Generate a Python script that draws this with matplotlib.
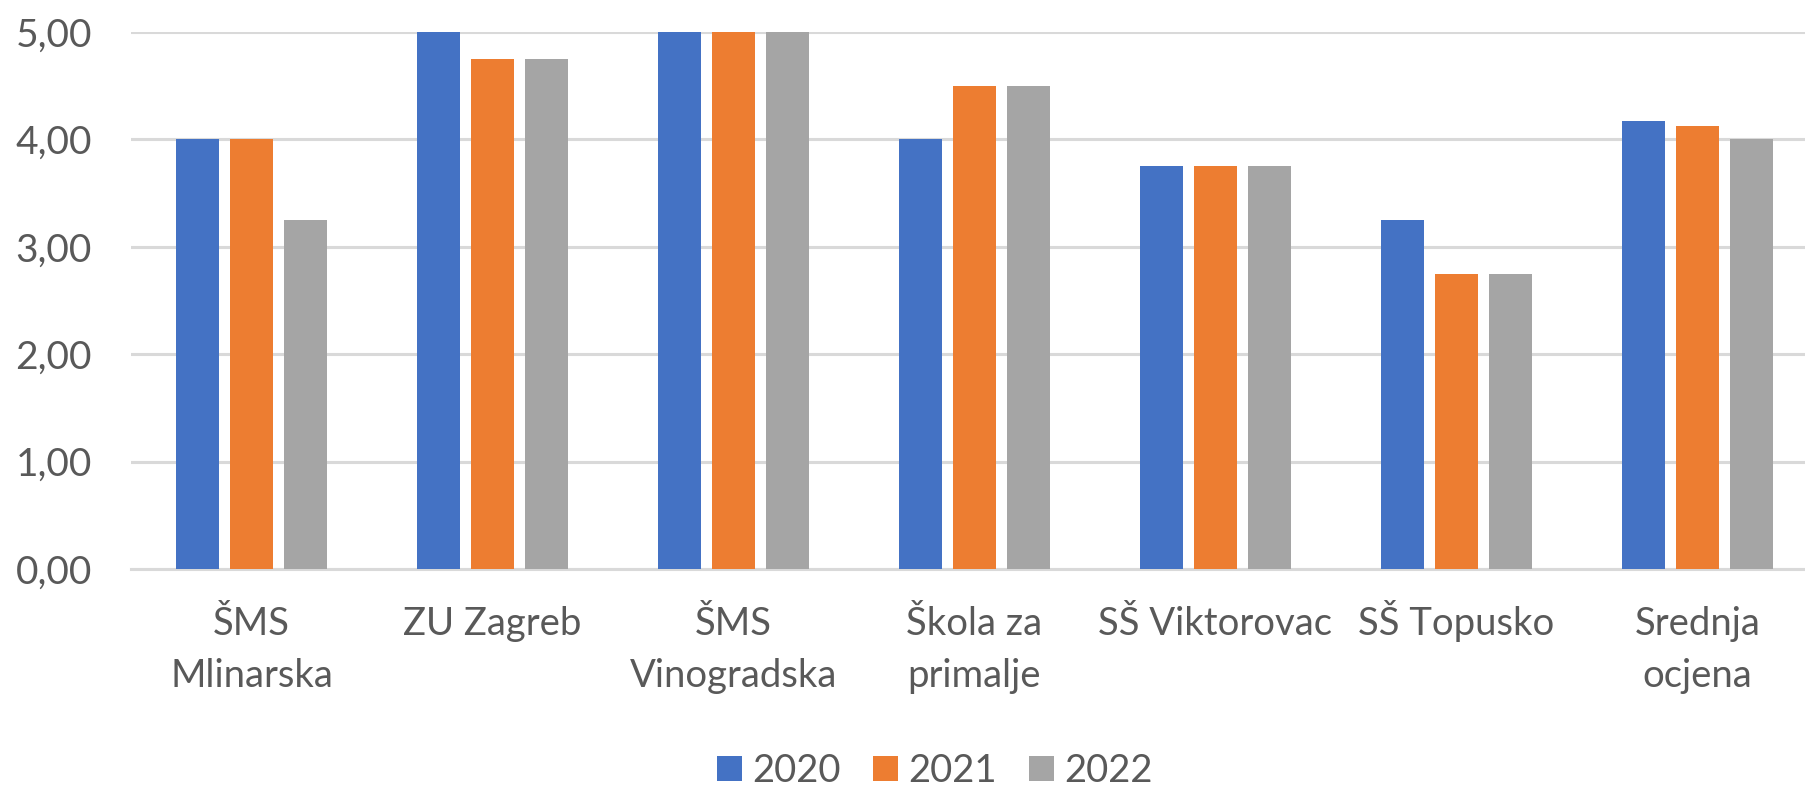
import matplotlib
matplotlib.use("Agg")
import matplotlib.pyplot as plt
import numpy as np

categories = ["ŠMS\nMlinarska", "ZU Zagreb", "ŠMS\nVinogradska", "Škola za\nprimalje",
              "SŠ Viktorovac", "SŠ Topusko", "Srednja\nocjena"]
years = ["2020", "2021", "2022"]
v2020 = [4.00, 5.00, 5.00, 4.00, 3.75, 3.25, 4.17]
v2021 = [4.00, 4.75, 5.00, 4.50, 3.75, 2.75, 4.125]
v2022 = [3.25, 4.75, 5.00, 4.50, 3.75, 2.75, 4.00]
yticks = [0, 1, 2, 3, 4, 5]
colors = ["#4472C4", "#ED7D31", "#A5A5A5"]

plt.rcParams['font.family'] = ['Lato', 'DejaVu Sans']
W, H = 1806, 789
fig = plt.figure(figsize=(W/100, H/100), dpi=100)
left, right = 131, 1806
bottom, top = H - 569, H - 32
ax = fig.add_axes([left/W, bottom/H, (right-left)/W, (top-bottom)/H])

x = np.arange(len(categories))
bw = 0.177
off = 0.2245
for i, (vals, c, lab) in enumerate(zip([v2020, v2021, v2022], colors, years)):
    ax.bar(x + (i-1)*off, vals, width=bw, color=c, label=lab, zorder=3, clip_on=False)

ax.set_ylim(0, 5)
ax.set_xlim(-0.5, (right-left)/241 - 0.5)
ax.set_yticks(yticks)
ax.set_yticklabels([f"{t:.2f}".replace(".", ",") for t in yticks])
ax.yaxis.grid(True, color="#d9d9d9", linewidth=2.2, zorder=0)
ax.set_axisbelow(True)
for s in ["top", "right", "left"]:
    ax.spines[s].set_visible(False)
ax.spines["bottom"].set_color("#d9d9d9")
ax.spines["bottom"].set_linewidth(2.2)
ax.tick_params(axis="both", length=0, colors="#595959")
ax.tick_params(axis="y", pad=28, labelsize=28)
ax.tick_params(axis="x", pad=85, labelsize=27.5)
ax.set_xticks(x)
# pad single-line labels to two lines so first-line baselines align
ax.set_xticklabels([c if "\n" in c else c + "\n " for c in categories], linespacing=1.55)
for lbl in ax.get_xticklabels():
    lbl.set_verticalalignment("baseline")

fig.legend(loc="center", bbox_to_anchor=(935/W, (H-771)/H), ncol=3, frameon=False,
           fontsize=27.5, labelcolor="#595959", handlelength=0.65, handleheight=0.65,
           handletextpad=0.27, columnspacing=0.85)

fig.savefig("out.png", dpi=100)
